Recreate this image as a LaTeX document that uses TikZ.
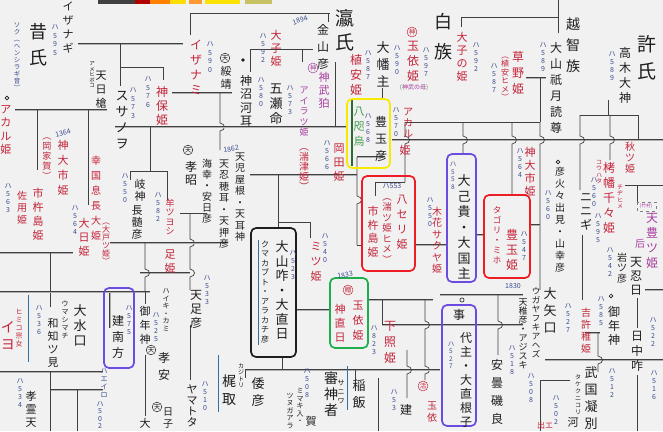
\documentclass[tikz,border=0pt]{standalone}
\usepackage{fontspec}
\newfontfamily\jp{Noto Sans CJK JP}
\definecolor{ink}{HTML}{1E1E1E}
\definecolor{rdink}{HTML}{C4243A}
\definecolor{blink}{HTML}{3C4C8E}
\definecolor{puink}{HTML}{A63E9E}
\definecolor{grink}{HTML}{3F9A4A}
\definecolor{bgc}{HTML}{F1F1F1}
\definecolor{bxyellow}{HTML}{F6EB00}
\definecolor{bxred}{HTML}{EE1D23}
\definecolor{bxpurple}{HTML}{6B4BE0}
\definecolor{bxgreen}{HTML}{1DAF4B}
\ExplSyntaxOn
\cs_new_protected:Npn \VV #1
 { \tl_map_inline:nn {#1} { \hbox_to_wd:nn {1.1em} { \tex_hss:D ##1 \tex_hss:D } } }
\ExplSyntaxOff
\newcommand\V[1]{\vbox{\lineskiplimit=-100pt\relax\VV{#1}}}
\newcommand\J[6]{\node[#1,font=\jp\fontsize{#2}{#3}\selectfont] (#4) at (#5) {\V{#6}};}
\newcommand\brg[4]{\draw[sl] (#1,#2) -- (#1,#3-4) .. controls (#1+6,#3-3) and (#1+6,#3+3) .. (#1,#3+4) -- (#1,#4);}
\tikzset{
  vtx/.style={inner sep=0pt, outer sep=0pt},
  bk/.style={vtx,text=ink},
  rd/.style={vtx,text=rdink},
  bl/.style={vtx,text=blink},
  pu/.style={vtx,text=puink},
  gr/.style={vtx,text=grink},
  hs/.style={vtx,font=\jp\fontsize{7}{7}\selectfont},
  cir/.style={circle, draw=#1, text=#1, inner sep=0.4pt, line width=0.5pt, font=\jp\fontsize{6.5}{6.5}\selectfont},
  sl/.style={draw=ink!85, line width=0.7pt},
  dl/.style={draw=ink!85, line width=0.6pt, double=ink!35, double distance=0.7pt},
  bx/.style={rounded corners=5pt, line width=1.7pt},
  bline/.style={draw=blink!80!cyan, line width=1pt}
}
\begin{document}
\begin{tikzpicture}[x=1pt,y=-1pt]
\useasboundingbox (0,0) rectangle (663,431);
\fill[bgc] (0,0) rectangle (663,431);
% top colour strip
\fill[ink!85] (98,0) rectangle (135,4);
\fill[red!70!black] (135,0) rectangle (150,4);
\fill[orange] (150,0) rectangle (170,4);
\fill[yellow!80!orange] (170,0) rectangle (186,4);
\fill[orange!80] (189,0) rectangle (202,4);
\fill[yellow!85!orange] (205,0) rectangle (240,4);
\fill[yellow!50!gray] (245,0) rectangle (272,4);
% ---------------- lines ----------------
\draw[sl] (190,13) -- (330,13);
\draw[sl] (190,13) -- (190,35);
\draw[sl] (328,13) -- (328,22);
\draw[dl] (78,44) -- (183,44);
\draw[sl] (120,44) -- (120,86);
\draw[sl] (120,67) -- (163,67) -- (163,80);
\draw[dl] (172,93) -- (232,93);
\brg{220}{93}{127}{150}
\draw[dl] (15,110) -- (107,110);
\draw[sl] (37,110) -- (37,170);
\draw[sl] (88,110) -- (88,205);
\draw[dl] (115,127) -- (348,127);
\draw[sl] (150,127) -- (150,171);
\draw[sl] (250,49) -- (313,49);
\draw[sl] (250,49) -- (250,72);
\draw[sl] (302,49) -- (302,62);
\draw[sl] (335,62) -- (335,127);
\draw[sl] (382,88) -- (382,99);
% right top
\draw[sl] (461,17) -- (558,17);
\draw[sl] (461,17) -- (461,27);
\draw[sl] (558,0) -- (558,33);
\draw[dl] (526,78) -- (546,78);
\draw[sl] (405,122) -- (540,122);
\draw[sl] (540,78) -- (540,122);
\draw[dl] (392,140) -- (663,140);
\brg{405}{122}{140}{182}
\draw[sl] (375,182) -- (405,182);
\draw[sl] (375,182) -- (375,196);
\brg{463}{122}{140}{154}
\brg{512}{122}{140}{195}
\brg{540}{122}{140}{290}
\draw[sl] (580,115) -- (638,115);
\draw[sl] (608,100) -- (608,115);
\draw[sl] (638,115) -- (638,140);
\brg{580}{115}{140}{190}
\draw[sl] (582,235) -- (582,300);
\brg{610}{115}{140}{160}
\draw[sl] (625,185) -- (663,185);
\draw[sl] (637,185) -- (637,202);
% middle
\draw[dl] (357,157) -- (385,157);
\draw[dl] (250,175) -- (357,175);
\brg{357}{157}{200}{245}
\draw[sl] (357,245) -- (362,245);
\draw[sl] (278,175) -- (278,228);
\draw[sl] (278,222) -- (310,222) -- (310,238);
\draw[dl] (415,245) -- (447,245);
\draw[dl] (476,235) -- (484,235);
\draw[dl] (530,225) -- (540,225);
\draw[dl] (645,290) -- (663,290);
\draw[sl] (130,171) -- (167,171);
\draw[sl] (130,171) -- (130,180);
\draw[sl] (167,171) -- (167,200);
\draw[sl] (180,213) -- (207,213);
\brg{190}{213}{243}{265}
\brg{190}{265}{273}{290}
\draw[dl] (110,243) -- (228,243);
\draw[dl] (140,273) -- (190,273);
\brg{145}{243}{273}{292}
\draw[dl] (0,253) -- (73,253);
\draw[sl] (50,253) -- (50,307);
% lower
\draw[dl] (0,292) -- (150,292);
\draw[dl] (110,293) -- (110,328);
\draw[sl] (145,292) -- (145,304);
\draw[sl] (145,355) -- (145,416);
\draw[sl] (190,325) -- (190,380);
\draw[dl] (0,372) -- (103,372);
\draw[dl] (50,390) -- (103,390);
\draw[sl] (50,372) -- (50,431);
\draw[sl] (77,390) -- (77,431);
\draw[dl] (296,310) -- (330,310);
\draw[dl] (368,300) -- (433,300);
\draw[sl] (382,300) -- (382,325);
\draw[dl] (382,325) -- (440,325);
\brg{425}{300}{325}{360}
\brg{425}{360}{370}{380}
\draw[dl] (245,370) -- (440,370);
\draw[sl] (245,370) -- (245,378);
\draw[sl] (282,357) -- (282,370);
\draw[sl] (355,370) -- (355,380);
\draw[sl] (378,378) -- (378,431);
\brg{407}{350}{370}{398}
\draw[dl] (440,295) -- (523,295);
\draw[dl] (440,325) -- (523,325);
\brg{498}{295}{325}{355}
\draw[dl] (545,360) -- (663,360);
\draw[dl] (585,333) -- (600,333);
\brg{598}{333}{360}{372}
\draw[sl] (540,380) -- (540,431);
\draw[sl] (540,380) -- (570,380);
\draw[sl] (637,298) -- (637,328);
\draw[sl] (637,375) -- (637,431);
% blue marker lines
\draw[bline] (258,240) -- (258,345);
\draw[bline] (28,295) -- (28,362);
\draw[bline] (347,366) -- (347,410);
\draw[bline] (218,355) -- (218,412);
\draw[draw=grink!70!black, line width=1.3pt] (352,100) -- (352,166);
% small marks
\node[circle, draw=ink, inner sep=1.3pt, line width=0.6pt] (o1) at (7,98) {};
\node[circle, draw=ink, inner sep=1.3pt, line width=0.6pt] (o2) at (558,162) {};
\node[circle, draw=ink, inner sep=1.3pt, line width=0.6pt] (o3) at (611,296) {};
\node[circle, draw=ink, inner sep=1.5pt, line width=0.6pt] (o4) at (462,300) {};
\node[circle, fill=ink, inner sep=1.3pt] (dot1) at (243,60) {};
\draw[gray, dashed, line width=0.4pt] (637,202) rectangle (656,211);
\node[pu, font=\jp\fontsize{4.5}{4.5}\selectfont] (takemura) at (646,206.5) {(竹村)};
% ---------------- boxes ----------------
\draw[bx, draw=bxyellow] (347,99) rectangle (390,168);
\draw[bx, draw=bxred] (362,176) rectangle (415,271);
\draw[bx, draw=bxred] (484,195) rectangle (530,278);
\draw[bx, draw=bxpurple] (447,154) rectangle (476,282);
\draw[bx, draw=bxpurple] (442,305) rectangle (476,426);
\draw[bx, draw=bxpurple] (104,288) rectangle (134,368);
\draw[bx, draw=ink] (251,228) rectangle (296,357);
\draw[bx, draw=bxgreen] (330,278) rectangle (368,348);
% ---------------- texts: left ----------------
\J{bk}{18}{26}{sekishi}{38,45}{昔氏}
\J{bl}{6.5}{7}{sokuon}{17,57}{ソク︵ヘンシラギ音︶}
\J{bk}{11}{14}{izanagi}{68,28}{イザナギ}
\J{bl}{7}{8.5}{ya595}{55,40}{ハ595}
\J{rd}{11}{13.5}{akaru1}{6,130}{アカル姫}
\J{rd}{12}{15}{izanami}{196,67}{イザナミ}
\J{bl}{7}{8.5}{ya590}{210,57}{ハ590}
\J{bk}{11}{14}{amehiboko}{101,90}{天日槍}
\J{bk}{5.5}{5.5}{amehibokok}{92,75}{アメヒボコ}
\J{bk}{13}{16}{susanowo}{122,120}{スサノヲ}
\J{bl}{7}{8.5}{ya573}{133,103}{ハ573}
\J{rd}{12}{14}{jinbohime}{162,106}{神保姫}
\J{bl}{7}{8.5}{ya576}{148,92}{ハ576}
\node[bl, hs, rotate=15] (y1364) at (63,133) {1364};
\J{rd}{9}{10}{okashoga}{47,159}{︵岡家賀︶}
\J{rd}{11}{15}{kamuoichi1}{63,168}{神大市姫}
\J{rd}{11}{14}{ichikishima1}{38,214}{市杵島姫}
\J{rd}{10}{12}{sayohime}{22,208}{佐用姫}
\J{bl}{7}{8}{ya563}{8,198}{ハ563}
\J{rd}{10}{15}{okinaga}{96,198}{幸国息長大姫}
\J{rd}{8}{8}{oto}{106,244}{︵大戸ツ姫︶}
\J{rd}{11}{14}{oohihime}{84,237}{大日姫}
\J{bl}{7}{8}{ya564}{75,220}{ハ564}
\J{bk}{11}{12}{funado}{140,190}{岐神}
\J{bk}{11}{12}{nagasune}{137,223}{長髄彦}
\J{bl}{7}{8}{ya550}{125,188}{ハ550}
\J{rd}{9}{9.5}{tsuyoshi}{170,217}{牟ツヨシ}
\J{bl}{7}{8}{ya582}{158,207}{ハ582}
\node[cir=ink] (c1) at (188,150) {天};
\J{bk}{12}{13}{kousho}{191,173}{孝昭}
\J{bk}{10}{11}{umisachi}{207,191}{海幸・安日彦}
\node[bl, hs, rotate=10] (y1862) at (231,149) {1862};
\J{bk}{10}{11.5}{oshihomimi}{224,204}{天忍穂耳・天押彦}
\J{bk}{10}{11.5}{koyane}{240,197}{天児屋根・天耳神}
\J{rd}{11}{14}{tarashihime}{170,262}{足姫}
% black box
\J{bk}{13}{14.5}{ooyamakui}{282,290}{大山咋・大直日}
\J{bk}{8}{9.5}{kumakabuto}{265,292}{クマカブト・アラカチ彦}
\J{bl}{7}{8}{ya523}{293,265}{ハ523}
\J{rd}{11}{15}{mitsuhime}{316,262}{ミツ姫}
\J{bl}{7}{8}{ya540}{325,248}{ハ540}
\J{rd}{10}{10}{tagitsu}{304,170}{︵湍津姫︶}
\J{rd}{11}{14}{okadahime}{339,163}{岡田姫}
\J{bl}{7}{8}{ya566}{327,155}{ハ566}
% red box 1
\node[bl, hs] (y553) at (392,186) {ハ553};
\J{rd}{9.5}{10.5}{tagitsu2}{387,231}{︵湍ツ姫ヒメ︶}
\J{rd}{11}{15}{yaserihime}{402,222}{八セリ姫}
\J{rd}{11}{13.5}{ichikishima2}{373,232}{市杵島姫}
\J{rd}{11}{11}{hime405}{405,150}{姫}
\J{bl}{7}{8}{ya550b}{430,212}{ハ550}
\J{rd}{10}{11.5}{konohana}{437,240}{木花サクヤ姫}
% purple box 1
\J{bk}{13}{15.5}{oonamuchi}{464,227}{大己貴・大国主}
\J{bl}{6.5}{7.5}{ya558}{453,176}{ハ558}
% red box 2
\J{rd}{8.5}{10}{tagori}{497,235}{タゴリ・ミホ}
\J{rd}{12}{15}{toyotama}{512,250}{豊玉姫}
\J{bl}{7}{8}{ya547}{524,246}{ハ547}
\J{rd}{11}{13}{kamuoichi2}{530,172}{神大市姫}
\J{bl}{7}{8}{ya564b}{520,163}{ハ564}
\J{bk}{10}{12}{hoori}{560,220}{彦火々出見・山幸彦}
\J{bl}{7}{8}{ya560}{548,205}{ハ560}
\J{bk}{12}{14}{ninigi}{586,212}{ニニギ}
\J{bl}{7}{8}{ya595b}{598,228}{ハ595}
\J{rd}{12}{15}{takuhata}{609,198}{栲幡千々姫}
\J{rd}{6}{6.5}{kouhata}{599,172}{コウハタ}
\J{rd}{6}{6.5}{chijihime}{620,197}{チヂヒメ}
\J{bl}{7}{8}{ya560b}{594,192}{ハ560}
\J{rd}{10}{11}{akitsu}{630,158}{秋ツ姫}
\J{pu}{12}{15}{ametoyo}{652,241}{天豊ツ姫}
\node[pu, font=\jp\fontsize{10}{10}\selectfont] (kisaki) at (640,244) {后};
\J{bk}{10}{10.5}{iwatsu}{622,268}{岩ツ彦}
\J{bk}{12}{14}{ameoshihi}{636,276}{天忍日}
\J{bl}{7}{8}{ya542}{610,262}{ハ542}
\J{bk}{13}{17}{ooyaguchi}{550,310}{大矢口}
\J{bl}{7}{8}{ya527}{568,318}{ハ527}
\J{bk}{12}{14}{mitoshi2}{614,326}{御年神}
\J{bl}{7}{8}{ya585}{601,311}{ハ585}
\J{rd}{10}{12}{yoshikowaka}{586,331}{吉許稚姫}
\J{bk}{12}{15}{hinakasaku}{637,351}{日中咋}
\J{bl}{7}{8}{ya522}{653,332}{ハ522}
\J{bl}{7}{8}{ya516}{654,385}{ハ516}
% purple box 2
\J{bk}{12}{12}{koto}{459,315}{事}
\J{bk}{12}{14}{kotoshiro}{466,380}{代主・大直根子}
\J{bl}{6.5}{7.5}{ya527b}{451,355}{ハ527}
\J{bk}{8.5}{9}{ugaya}{536,323}{ウガヤフキアヘズ}
\J{bk}{9}{9}{amewaka}{523,334}{天稚彦・アジスキ}
\J{bk}{12}{18}{azumi}{497,392}{安曇磯良}
\J{bl}{7}{8}{ya518}{512,360}{ハ518}
\J{bk}{13}{17}{takekuni}{591,398}{武国凝別}
\J{bk}{6}{7}{takekunik}{578,395}{タケクニコリ}
\J{bl}{7}{8}{ya512}{612,383}{ハ512}
\node[bk, font=\jp\fontsize{11}{11}\selectfont] (kawa) at (573,422) {河};
\J{bl}{7}{8}{ya502}{556,410}{ハ502}
\J{bl}{7}{8}{ya508}{531,388}{ハ508}
\node[rd, font=\jp\fontsize{8}{8}\selectfont] (ide) at (545,425) {出エ};
\node[bl, hs] (y1830) at (513,286) {1830};
% bottom centre
\J{bk}{14}{18}{kajitori}{229,390}{梶取}
\J{bk}{6}{6.5}{kajitorik}{241,376}{カジトリ}
\J{bk}{13}{17}{yamatohiko}{258,392}{倭彦}
\J{bl}{7}{8}{ya508b}{307,383}{ハ508}
\J{bk}{7}{7.5}{mimaki}{300,406}{ミマキ入・}
\J{bk}{7}{7.5}{tsunuga}{290,411}{ツヌガアラ}
\node[bk, font=\jp\fontsize{11}{11}\selectfont] (ga) at (311,421) {賀};
\J{bk}{14}{16}{saniwa}{331,394}{審神者}
\J{bk}{7}{9}{saniwak}{341,392}{サニワ}
\J{bk}{13}{17}{inai}{359,394}{稲飯}
\node[cir=rdink] (c2) at (423,386) {活};
\J{rd}{10}{12}{tamayori3}{432,412}{玉依}
\node[bk, font=\jp\fontsize{12}{12}\selectfont] (take) at (406,410) {建};
\J{bl}{7}{8}{ya53}{394,400}{ハ53}
% green box
\node[cir=rdink] (c3) at (348,290) {贈};
\J{rd}{11}{15}{tamayori2}{358,321}{玉依姫}
\J{rd}{11}{14}{kaminaobi}{340,323}{神直日}
\node[bl, hs, rotate=10] (y1833) at (345,275) {1833};
\J{rd}{12}{16}{shitateru}{390,342}{下照姫}
\J{bl}{7}{8}{ya823}{374,340}{ハ823}
% bottom left
\J{rd}{7}{8}{himikosojo}{19,328}{ヒミコ宗女}
\J{rd}{14}{17}{iyo}{8,336}{イヨ}
\J{bl}{7}{8}{ya536}{39,320}{ハ536}
\J{bk}{11}{13}{wachitsumi}{53,343}{和知ツ見}
\J{bk}{7}{8}{umashimachi}{65,320}{ウマシマチ}
\J{bk}{13}{15}{oominakuchi}{80,325}{大水口}
\J{bk}{12}{16}{takeminakata}{118,337}{建南方}
\J{bl}{7}{8}{ya575}{129,320}{ハ575}
\J{bk}{11}{14}{mitoshi1}{145,325}{御年神}
\J{bk}{7}{7.5}{haikami}{166,310}{ハイキ・カミ}
\J{bl}{7}{8}{ya525}{156,327}{ハ525}
\node[cir=ink] (c4) at (151,350) {天};
\J{bk}{12}{17}{kouan}{164,366}{孝安}
\J{bk}{12}{14}{amatarashi}{196,309}{天足彦}
\J{bl}{7}{8}{ya533}{207,290}{ハ533}
\J{bk}{11}{11}{yamatota}{192,406}{ヤマトタ}
\J{bl}{7}{8}{ya510}{205,396}{ハ510}
\J{bk}{11}{13}{korei}{31,409}{孝霊天}
\J{bl}{7}{8}{ya534}{20,393}{ハ534}
\J{bl}{7}{8}{haeiro}{104,383}{ハエイロ}
\J{bl}{7}{7.5}{ya502b}{100,415}{ハ502}
\node[cir=ink] (c5) at (157,407) {天};
\J{bk}{10}{12}{hiko}{168,418}{日子}
\node[bk, font=\jp\fontsize{11}{11}\selectfont] (dai) at (145,423) {大};
% top centre
\J{bk}{19}{24}{eishi}{345,30}{瀛氏}
\node[bl, hs, rotate=20] (y1894) at (300,20) {1894};
\J{bk}{12}{17}{kanayama}{323,47}{金山彦}
\J{rd}{11}{13}{ohime}{276,48}{大子姫}
\J{bl}{7}{8}{ya592}{263,48}{ハ592}
\node[cir=puink] (c6) at (313,68) {神};
\J{pu}{11}{13}{jinmu}{324,90}{神武狛}
\J{pu}{9}{10.5}{airatsu}{304,112}{アイラツ姫}
\J{bl}{7}{8}{ya573b}{290,100}{ハ573}
\J{bk}{13}{15}{itsuse}{276,104}{五瀬命}
\J{bl}{7}{8}{ya580}{261,92}{ハ580}
\J{bk}{12}{13.5}{kamununa}{246,101}{神沼河耳}
\node[cir=ink] (c7) at (225,58) {天};
\J{bk}{11}{13}{suizei}{226,78}{綏靖}
\J{rd}{12}{15}{ueyasu}{356,75}{植安姫}
\J{bl}{7}{8}{ya587}{368,65}{ハ587}
\J{bk}{13}{17}{oohata}{383,64}{大幡主}
\J{bl}{7}{8}{ya590b}{397,60}{ハ590}
\node[cir=rdink] (c8) at (412,32) {神};
\J{rd}{12}{15}{tamayori1}{413,61}{玉依姫}
\J{bl}{7}{8}{ya597}{426,62}{ハ597}
\node[pu, font=\jp\fontsize{6}{6}\selectfont] (jinmuhaha) at (414,88) {\textcolor{grink}{(}神武の母\textcolor{grink}{)}};
\J{bk}{18}{30}{hakuzoku}{443,37}{白族}
\J{rd}{10}{11}{akaru2}{408,123}{アカル}
\J{bl}{7}{8}{ya570}{396,122}{ハ570}
% yellow box
\J{gr}{11}{15}{yatagarasu}{359,127}{八咫烏}
\J{bk}{12}{17}{toyotamahiko}{381,139}{豊玉彦}
\J{bl}{7}{8}{ya568}{368,128}{ハ568}
% top right
\J{rd}{11}{13}{ohime2}{462,57}{大子の姫}
\J{bl}{7}{8}{ya592b}{476,57}{ハ592}
\J{rd}{12}{16}{kusano}{518,73}{草野姫}
\J{rd}{8}{8.5}{ueyasu2}{505,79}{︵植安ヒメ︶}
\J{bl}{7}{8}{ya587b}{494,78}{ハ587}
\J{bk}{14}{21}{ochizoku}{573,45}{越智族}
\J{bk}{12}{16}{ooyamatsumi}{556,88}{大山祇月読尊}
\J{bl}{7}{8}{ya589}{543,57}{ハ589}
\J{bk}{19}{27}{kyoshi}{647,58}{許氏}
\J{bk}{12}{15}{takagi}{625,75}{高木大神}
\J{bl}{7}{8}{ya589b}{612,66}{ハ589}
\end{tikzpicture}
\end{document}
